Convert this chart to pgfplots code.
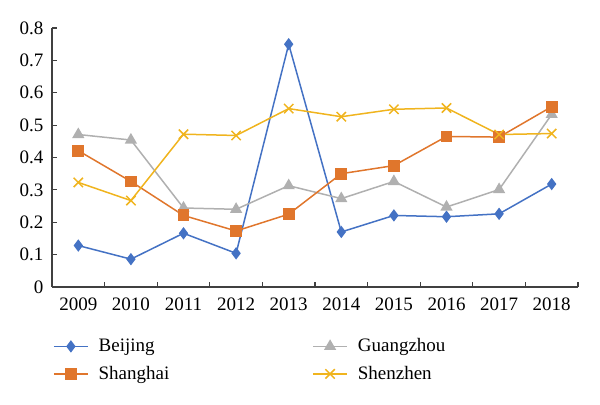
\documentclass[border=0pt]{standalone}
\usepackage{fontspec}
\setmainfont{Liberation Serif}
\usepackage{pgfplots}
\pgfplotsset{compat=1.18}
\definecolor{cBJ}{HTML}{4472C4}
\definecolor{cSH}{HTML}{E0762C}
\definecolor{cGZ}{HTML}{B0B0B0}
\definecolor{cSZ}{HTML}{F0B41E}
\begin{document}
\fontsize{9.5pt}{11pt}\selectfont
\begin{tikzpicture}
\path[use as bounding box] (0pt,0pt) rectangle (300pt,202.5pt);
\begin{axis}[
  at={(26pt,59pt)}, anchor=south west,
  scale only axis, width=263pt, height=129.5pt,
  xmin=-0.5, xmax=9.5, ymin=0, ymax=0.8,
  axis lines*=left,
  axis line style={black!75, line width=0.6pt},
  xtick={0,...,9},
  xticklabels={2009,2010,2011,2012,2013,2014,2015,2016,2017,2018},
  major x tick style={draw=none},
  minor xtick={-0.5,0.5,...,9.5},
  minor x tick style={black!75, line width=0.6pt},
  minor tick length=2.5pt,
  ytick={0,0.1,...,0.8},
  y tick style={black!75, line width=0.6pt},
  major tick length=2.5pt,
  tick align=inside,
  yticklabel style={/pgf/number format/fixed, /pgf/number format/precision=1},
  /pgf/number format/assume math mode=true,
  ticklabel style={font=\fontsize{9.5pt}{11pt}\selectfont},
  xticklabel style={yshift=-2pt},
  yticklabel style={xshift=-1pt},
  clip=false,
  legend columns=2,
  legend cell align=left,
  legend style={draw=none, fill=none, at={(-0.01,-0.166)}, anchor=north west,
    font=\fontsize{9.5pt}{11pt}\selectfont,
    /tikz/every odd column/.style={column sep=3pt},
    /tikz/every even column/.style={column sep=69.5pt},
    row sep=1.75pt},
  legend image code/.code={\draw[mark repeat=2, mark phase=2, #1] plot coordinates {(0pt,0pt)(8.5pt,0pt)(17pt,0pt)};},
]
\addplot[cBJ, line width=0.75pt, mark=diamond*, mark size=2.5pt] coordinates {
(0,0.128)(1,0.086)(2,0.166)(3,0.104)(4,0.750)(5,0.170)(6,0.221)(7,0.217)(8,0.226)(9,0.318)};
\addlegendentry{Beijing}
\addplot[cGZ, line width=0.75pt, mark=triangle*, mark size=2.8pt] coordinates {
(0,0.471)(1,0.454)(2,0.244)(3,0.240)(4,0.313)(5,0.273)(6,0.326)(7,0.247)(8,0.301)(9,0.533)};
\addlegendentry{Guangzhou}
\addplot[cSH, line width=0.75pt, mark=square*, mark size=2.6pt] coordinates {
(0,0.421)(1,0.326)(2,0.221)(3,0.173)(4,0.225)(5,0.350)(6,0.375)(7,0.465)(8,0.463)(9,0.557)};
\addlegendentry{Shanghai}
\addplot[cSZ, line width=0.75pt, mark=x, mark size=3.3pt] coordinates {
(0,0.323)(1,0.267)(2,0.472)(3,0.468)(4,0.551)(5,0.526)(6,0.549)(7,0.553)(8,0.471)(9,0.474)};
\addlegendentry{Shenzhen}
\end{axis}
\end{tikzpicture}
\end{document}
